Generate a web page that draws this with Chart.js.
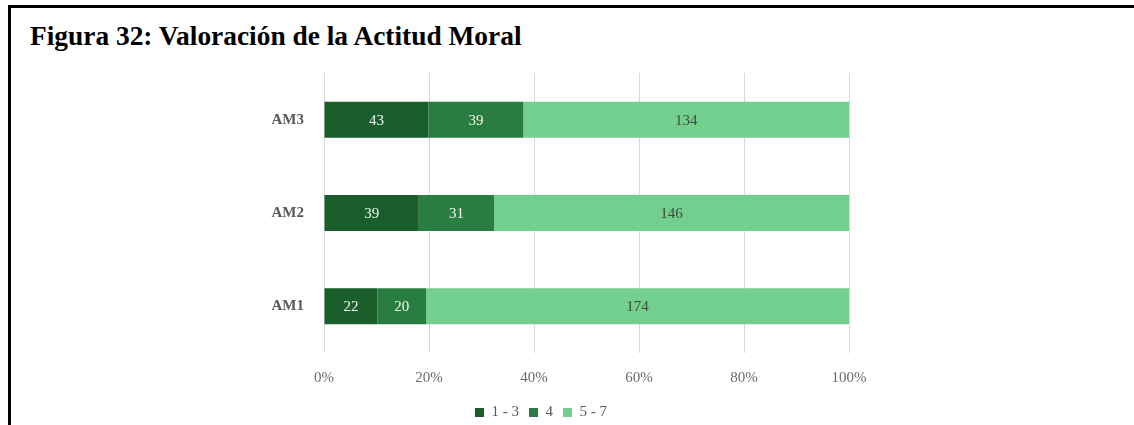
<!DOCTYPE html>
<html lang="es">
<head>
<meta charset="utf-8">
<title>Figura 32: Valoración de la Actitud Moral</title>
<script src="https://cdn.jsdelivr.net/npm/chart.js@4.4.1/dist/chart.umd.min.js"></script>
<style>
  html, body { margin: 0; padding: 0; background: #ffffff; }
  #page { position: relative; width: 1134px; height: 425px; overflow: hidden; background: #ffffff; }
  #frame { position: absolute; left: 8px; top: 5px; width: 1200px; height: 500px;
           border-top: 3px solid #000; border-left: 3px solid #000; box-sizing: border-box; }
  #title { position: absolute; left: 30px; top: 23px; margin: 0;
           font: bold 27.4px/27px "Liberation Serif", "Times New Roman", serif; color: #000; white-space: nowrap; }
  #chart { position: absolute; left: 0; top: 0; }
</style>
</head>
<body>
<div id="page">
  <div id="frame"></div>
  <h1 id="title">Figura 32: Valoración de la Actitud Moral</h1>
  <canvas id="chart" width="1134" height="425"></canvas>
</div>
<script>
// Items of the moral attitude scale, top to bottom
const categories = ['AM3', 'AM2', 'AM1'];
// Number of answers in each rating band
const seriesNames = ['1 - 3', '4', '5 - 7'];
const band13 = [43, 39, 22];
const band4  = [39, 31, 20];
const band57 = [134, 146, 174];
const xTicks = [0, 20, 40, 60, 80, 100];

const colors = ['#195e2b', '#2a7d40', '#72cf8d'];
const labelColors = ['#f2f7f2', '#f2f7f2', '#3d4a40'];
const serif = '"Liberation Serif", "Times New Roman", serif';

const bands = [band13, band4, band57];
const totals = categories.map((_, i) => bands.reduce((s, b) => s + b[i], 0));
const shares = bands.map(b => b.map((v, i) => v / totals[i] * 100));

// Writes each band's count in the middle of its bar segment
const segmentLabels = {
  id: 'segmentLabels',
  afterDatasetsDraw(chart) {
    const ctx = chart.ctx;
    ctx.save();
    ctx.font = '15px ' + serif;
    ctx.textAlign = 'center';
    ctx.textBaseline = 'middle';
    chart.data.datasets.forEach((ds, di) => {
      const meta = chart.getDatasetMeta(di);
      meta.data.forEach((bar, i) => {
        const p = bar.getProps(['x', 'y', 'base'], true);
        ctx.fillStyle = labelColors[di];
        ctx.fillText(String(ds.counts[i]), (p.x + p.base) / 2, p.y + 1);
      });
    });
    ctx.restore();
  }
};

// Fixed height for the legend band under the axis
const legendBand = {
  id: 'legendBand',
  beforeInit(chart) {
    const legend = chart.legend;
    if (!legend) return;
    const fit = legend.fit;
    legend.fit = function () { fit.call(this); this.height = 30; };
  }
};

new Chart(document.getElementById('chart'), {
  type: 'bar',
  data: {
    labels: categories,
    datasets: seriesNames.map((name, k) => ({
      label: name,
      data: shares[k],
      counts: bands[k],
      backgroundColor: colors[k],
      borderWidth: 0,
      barPercentage: 0.77,
      categoryPercentage: 0.5
    }))
  },
  options: {
    indexAxis: 'y',
    responsive: false,
    animation: false,
    layout: { padding: { top: 73, left: 233, right: 285, bottom: 0 } },
    scales: {
      x: {
        stacked: true,
        min: 0,
        max: 100,
        afterBuildTicks(scale) { scale.ticks = xTicks.map(v => ({ value: v })); },
        afterFit(scale) { scale.height = 42; },
        grid: { color: '#d9d9d9', lineWidth: 1, drawTicks: false },
        border: { display: false },
        ticks: {
          padding: 16,
          color: '#6b6b6b',
          font: { family: serif, size: 15 },
          callback: v => v + '%'
        }
      },
      y: {
        stacked: true,
        afterFit(scale) { scale.width = 91; },
        grid: { display: false, drawTicks: false },
        border: { display: false },
        ticks: {
          padding: 20,
          color: '#595959',
          font: { family: serif, size: 15, weight: 'bold' }
        }
      }
    },
    plugins: {
      tooltip: { enabled: false },
      legend: {
        position: 'bottom',
        labels: {
          boxWidth: 9,
          boxHeight: 9,
          padding: 10,
          color: '#595959',
          font: { family: serif, size: 15 }
        }
      }
    }
  },
  plugins: [segmentLabels, legendBand]
});
</script>
</body>
</html>
